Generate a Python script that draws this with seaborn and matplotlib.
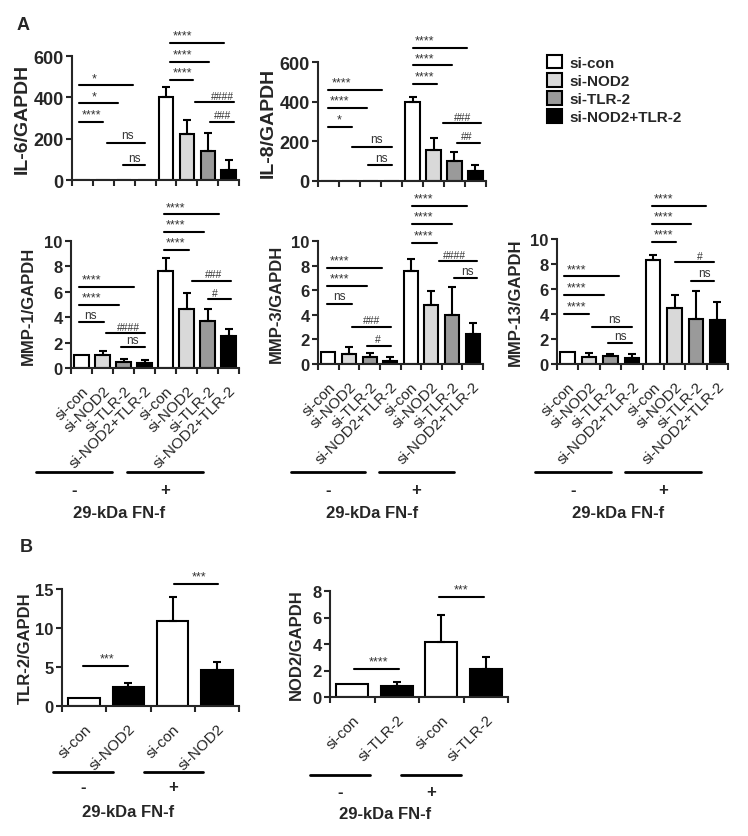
import numpy as np
import pandas as pd
import matplotlib
matplotlib.use("Agg")
import matplotlib.pyplot as plt
import matplotlib.transforms as mtransforms
from matplotlib.patches import Patch
import seaborn as sns

# ---- data ----
groups = ["si-con", "si-NOD2", "si-TLR-2", "si-NOD2+TLR-2"]
labels_a = groups * 2
colors_a = ["white", "#d9d9d9", "#9a9a9a", "black"] * 2

il6_mean = [1, 1, 0.8, 0.8, 400, 222, 138, 48]
il6_err = [0, 0, 0, 0, 52, 67, 88, 47]
il8_mean = [1, 1, 0.8, 0.8, 397, 155, 103, 52]
il8_err = [0, 0, 0, 0, 28, 60, 41, 28]
mmp1_mean = [1.0, 1.0, 0.5, 0.42, 7.6, 4.65, 3.7, 2.55]
mmp1_err = [0, 0.3, 0.2, 0.2, 1.05, 1.25, 0.95, 0.55]
mmp3_mean = [1.0, 0.8, 0.6, 0.27, 7.55, 4.8, 3.95, 2.4]
mmp3_err = [0, 0.55, 0.3, 0.28, 1.0, 1.1, 2.3, 0.9]
mmp13_mean = [1.0, 0.53, 0.61, 0.5, 8.3, 4.45, 3.6, 3.52]
mmp13_err = [0, 0.35, 0.16, 0.3, 0.4, 1.1, 2.27, 1.41]

labels_tlr = ["si-con", "si-NOD2", "si-con", "si-NOD2"]
labels_nod = ["si-con", "si-TLR-2", "si-con", "si-TLR-2"]
colors_b = ["white", "black", "white", "black"]
tlr2_mean = [1.0, 2.5, 10.85, 4.6]
tlr2_err = [0, 0.45, 3.15, 1.05]
nod2_mean = [1.0, 0.82, 4.15, 2.1]
nod2_err = [0, 0.3, 2.05, 0.93]

# significance brackets: (x start, x end, height, text, text x)
il6_sig = [(-0.15, 2.44, 458, "*", 0.54), (-0.15, 1.71, 371, "*", 0.54),
           (-0.15, 1.0, 282, "****", 0.41), (1.16, 3.02, 181, "ns", 2.17),
           (1.93, 3.02, 73, "ns", 2.49), (4.2, 6.78, 665, "****", 4.78),
           (4.2, 6.06, 573, "****", 4.78), (4.2, 5.32, 485, "****", 4.78),
           (5.37, 7.26, 377, "####", 6.7), (6.09, 7.26, 282, "###", 6.7)]
il8_sig = [(-0.02, 2.57, 461, "****", 0.61), (-0.02, 1.84, 368, "****", 0.53),
           (-0.02, 1.12, 274, "*", 0.5), (1.14, 3.0, 172, "ns", 2.28),
           (1.88, 3.0, 79, "ns", 2.52), (4.03, 6.6, 673, "****", 4.59),
           (4.03, 5.89, 583, "****", 4.59), (4.03, 5.18, 490, "****", 4.59),
           (5.43, 7.26, 292, "###", 6.38), (6.13, 7.21, 194, "##", 6.57)]
mmp1_sig = [(-0.1, 2.51, 6.4, "****", 0.48), (-0.1, 1.78, 5.0, "****", 0.48),
            (-0.1, 1.08, 3.6, "ns", 0.43), (1.16, 3.02, 2.76, "####", 2.23),
            (1.88, 3.02, 1.64, "ns", 2.42), (3.94, 6.55, 12.1, "****", 4.49),
            (3.94, 5.82, 10.7, "****", 4.49), (3.94, 5.1, 9.27, "****", 4.49),
            (5.28, 7.1, 6.88, "###", 6.27), (6.0, 7.1, 5.42, "#", 6.35)]
mmp3_sig = [(-0.05, 2.62, 7.83, "****", 0.55), (-0.05, 1.89, 6.33, "****", 0.55),
            (-0.05, 1.16, 4.89, "ns", 0.52), (1.16, 3.05, 3.04, "###", 2.08),
            (1.89, 3.05, 1.5, "#", 2.4), (4.07, 6.74, 12.85, "****", 4.62),
            (4.07, 6.0, 11.36, "****", 4.62), (4.07, 5.27, 9.86, "****", 4.62),
            (5.36, 7.22, 8.37, "####", 6.12), (6.08, 7.22, 6.98, "ns", 6.72)]
mmp13_sig = [(-0.16, 2.4, 7.01, "****", 0.4), (-0.16, 1.72, 5.55, "****", 0.4),
             (-0.16, 1.0, 4.0, "****", 0.4), (1.16, 3.0, 2.99, "ns", 2.17),
             (1.88, 3.0, 1.68, "ns", 2.45), (3.96, 6.46, 12.67, "****", 4.5),
             (3.96, 5.76, 11.2, "****", 4.5), (3.96, 5.06, 9.79, "****", 4.5),
             (5.04, 6.84, 8.13, "#", 6.18), (5.76, 6.84, 6.67, "ns", 6.41)]
tlr2_sig = [(-0.03, 0.99, 5.14, "***", 0.52), (2.02, 3.03, 15.6, "***", 2.6)]
nod2_sig = [(0.04, 1.06, 2.09, "****", 0.6), (1.95, 2.96, 7.57, "***", 2.44)]

sns.set_style("ticks")
plt.rcParams["font.family"] = ["Liberation Sans", "DejaVu Sans"]

W, H = 748, 837
fig = plt.figure(figsize=(W / 100, H / 100), dpi=100)


def px_axes(l, t, r, b):
    return fig.add_axes([l / W, 1 - b / H, (r - l) / W, (b - t) / H])


def bar_panel(ax, labels, means, errs, colors, ylabel, ylim, yticks, sig, width,
              ylab_size=12, tick_size=12, ylab_pad=2):
    n = len(means)
    df = pd.DataFrame({"key": [str(i) for i in range(n)], "val": means})
    sns.barplot(data=df, x="key", y="val", hue="key", palette=colors, legend=False,
                edgecolor="black", linewidth=1.5, width=width, saturation=1, ax=ax)
    idx = [i for i in range(n) if errs[i] > 0]
    ax.errorbar(idx, [means[i] for i in idx], yerr=[np.zeros(len(idx)), [errs[i] for i in idx]],
                fmt="none", ecolor="black", elinewidth=1.5, capsize=3, capthick=1.5)
    ax.set_xlim(-0.5, n - 0.5)
    ax.set_ylim(*ylim)
    ax.set_yticks(yticks)
    ax.set_xticks(range(n))
    ax.set_xticklabels(labels, rotation=45, ha="right", rotation_mode="anchor", fontsize=11)
    ax.set_xticks(np.arange(-0.5, n), minor=True)
    ax.tick_params(axis="x", which="major", length=0, pad=11)
    ax.tick_params(axis="x", which="minor", length=4, width=1.5)
    ax.tick_params(axis="y", length=4, width=1.5, labelsize=tick_size, pad=2)
    for t in ax.get_yticklabels():
        t.set_fontweight("bold")
    for s in ["left", "bottom"]:
        ax.spines[s].set_linewidth(1.5)
    sns.despine(ax=ax)
    ax.set_xlabel("")
    ax.set_ylabel(ylabel, fontsize=ylab_size, fontweight="bold", labelpad=ylab_pad)
    for x1, x2, y, txt, tx in sig:
        ax.plot([x1, x2], [y, y], color="black", lw=1.5, clip_on=False)
        fs = 9 if txt.startswith("*") else (8.5 if txt == "ns" else 7.5)
        ax.annotate(txt, (tx, y), xytext=(0, 1), textcoords="offset points",
                    ha="center", va="bottom", fontsize=fs, color="#333333",
                    annotation_clip=False)


def fnf_marks(ax, spans, y_line, y_sign, y_text):
    tr = mtransforms.blended_transform_factory(ax.transData, fig.transFigure)
    for (a, b), sign in zip(spans, ["-", "+"]):
        ax.plot([a, b], [1 - y_line / H] * 2, color="black", lw=2, transform=tr, clip_on=False)
        ax.text((a + b) / 2, 1 - y_sign / H, sign, transform=tr, ha="center", va="center",
                fontsize=12, fontweight="bold")
    mid = (spans[0][0] + spans[1][1]) / 2
    ax.text(mid, 1 - y_text / H, "29-kDa FN-f", transform=tr, ha="center", va="center",
            fontsize=12, fontweight="bold")


ax = px_axes(72, 57, 239, 181)
bar_panel(ax, labels_a, il6_mean, il6_err, colors_a, "IL-6/GAPDH", (0, 600), [0, 200, 400, 600],
          il6_sig, 0.68, ylab_size=14, tick_size=13)
ax.set_xticklabels([])

ax = px_axes(318, 63, 486, 182)
bar_panel(ax, labels_a, il8_mean, il8_err, colors_a, "IL-8/GAPDH", (0, 600), [0, 200, 400, 600],
          il8_sig, 0.68, ylab_size=14, tick_size=13)
ax.set_xticklabels([])

ax = px_axes(71, 242, 239, 369)
bar_panel(ax, labels_a, mmp1_mean, mmp1_err, colors_a, "MMP-1/GAPDH", (0, 10), [0, 2, 4, 6, 8, 10],
          mmp1_sig, 0.68, ylab_pad=6)
fnf_marks(ax, [(-2.17, 1.46), (2.18, 5.77)], 473, 491, 513)

ax = px_axes(318, 242, 483, 365)
bar_panel(ax, labels_a, mmp3_mean, mmp3_err, colors_a, "MMP-3/GAPDH", (0, 10), [0, 2, 4, 6, 8, 10],
          mmp3_sig, 0.68, ylab_pad=5)
fnf_marks(ax, [(-1.83, 1.79), (2.45, 6.07)], 473, 491, 513)

ax = px_axes(557, 240, 728, 365)
bar_panel(ax, labels_a, mmp13_mean, mmp13_err, colors_a, "MMP-13/GAPDH", (0, 10), [0, 2, 4, 6, 8, 10],
          mmp13_sig, 0.68, ylab_pad=5)
fnf_marks(ax, [(-1.53, 2.04), (2.68, 6.23)], 473, 491, 513)

ax = px_axes(62, 590, 239, 707)
bar_panel(ax, labels_tlr, tlr2_mean, tlr2_err, colors_b, "TLR-2/GAPDH", (0, 15), [0, 5, 10, 15],
          tlr2_sig, 0.71)
fnf_marks(ax, [(-0.7, 0.65), (1.35, 2.69)], 773, 788, 813)

ax = px_axes(330, 592, 508, 698)
bar_panel(ax, labels_nod, nod2_mean, nod2_err, colors_b, "NOD2/GAPDH", (0, 8), [0, 2, 4, 6, 8],
          nod2_sig, 0.71, ylab_pad=6)
fnf_marks(ax, [(-0.95, 0.4), (1.1, 2.44)], 776, 793, 815)

handles = [Patch(facecolor=c, edgecolor="black", linewidth=1.5) for c in colors_a[:4]]
leg = fig.legend(handles, groups, loc="upper left", bbox_to_anchor=(533 / W, 1 - 42 / H),
                 frameon=False, handlelength=1.0, handleheight=1.0, handletextpad=0.5,
                 labelspacing=0.2, prop={"size": 11, "weight": "bold"})

fig.text(23 / W, 1 - 25 / H, "A", fontsize=13, fontweight="bold", ha="center", va="center")
fig.text(26 / W, 1 - 548 / H, "B", fontsize=13, fontweight="bold", ha="center", va="center")

fig.savefig("out.png", dpi=100)
